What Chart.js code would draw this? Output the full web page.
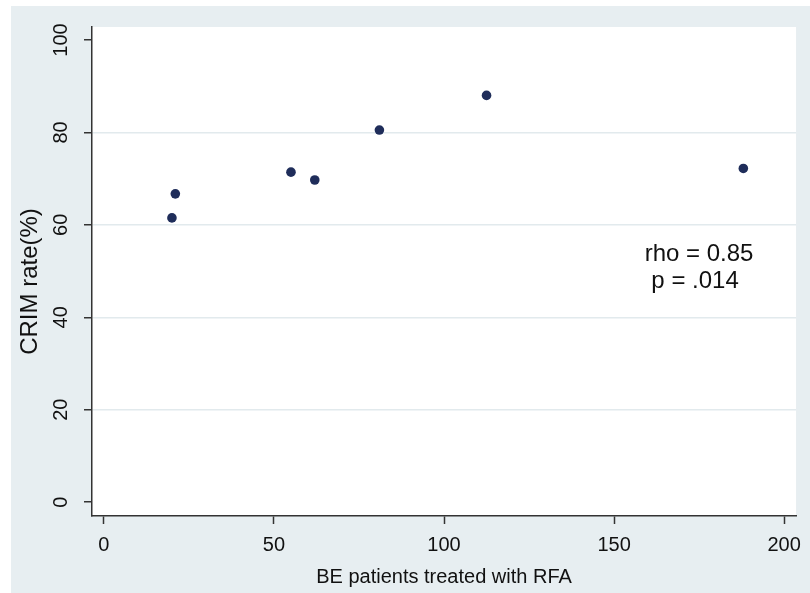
<!DOCTYPE html>
<html>
<head>
<meta charset="utf-8">
<script src="https://cdn.jsdelivr.net/npm/chart.js@4/dist/chart.umd.min.js"></script>
<style>
  html, body { margin: 0; padding: 0; background: #ffffff; }
  #wrap { width: 810px; height: 593px; position: relative; }
</style>
</head>
<body>
<div id="wrap"><canvas id="c" width="810" height="593"></canvas></div>
<script>
// ---- data ----
const patientsRFA = [20, 21, 55, 62, 81, 112.5, 188];
const crimRate    = [61.5, 66.7, 71.4, 69.7, 80.5, 88.0, 72.2];
const xTickValues = [0, 50, 100, 150, 200];
const yTickValues = [0, 20, 40, 60, 80, 100];
const xTitle = 'BE patients treated with RFA';
const yTitle = 'CRIM rate(%)';
const statLines = ['rho = 0.85', ' p = .014'];
const statX = 159;
const statY = [53.7, 47.8];

const BG = '#e7eef1';
const GRID = '#e2eaed';
const AXIS = '#333333';
const DOT = '#1f2d5a';
const FONT = "'Liberation Sans', Arial, sans-serif";

const bgPlugin = {
  id: 'bg',
  beforeDraw(chart) {
    const {ctx, chartArea} = chart;
    ctx.save();
    ctx.fillStyle = '#ffffff';
    ctx.fillRect(0, 0, chart.width, chart.height);
    ctx.fillStyle = BG;
    ctx.fillRect(11, 6, chart.width - 11, chart.height - 6);
    ctx.fillStyle = '#ffffff';
    ctx.fillRect(chartArea.left, chartArea.top, chartArea.right - chartArea.left, chartArea.bottom - chartArea.top);
    ctx.restore();
  }
};

const statPlugin = {
  id: 'stat',
  afterDatasetsDraw(chart) {
    const {ctx, scales} = chart;
    ctx.save();
    ctx.fillStyle = '#111111';
    ctx.font = "24px " + FONT;
    ctx.textAlign = 'left';
    ctx.textBaseline = 'middle';
    statLines.forEach((t, i) => {
      ctx.fillText(t, scales.x.getPixelForValue(statX), scales.y.getPixelForValue(statY[i]));
    });
    ctx.restore();
  }
};

new Chart(document.getElementById('c'), {
  type: 'scatter',
  data: {
    datasets: [{
      data: patientsRFA.map((x, i) => ({x: x, y: crimRate[i]})),
      backgroundColor: DOT,
      borderColor: DOT,
      borderWidth: 0,
      pointRadius: 4.8,
      pointHoverRadius: 4.8
    }]
  },
  options: {
    responsive: false,
    animation: false,
    devicePixelRatio: 1,
    layout: { padding: { left: 0, top: 27, right: 10, bottom: 0 } },
    plugins: { legend: { display: false }, tooltip: { enabled: false } },
    scales: {
      x: {
        type: 'linear',
        min: -3.5,
        max: 203.5,
        afterBuildTicks: s => { s.ticks = xTickValues.map(v => ({value: v})); },
        afterFit: s => { s.height = 77; },
        border: { display: true, color: AXIS, width: 1.5 },
        grid: { drawOnChartArea: false, drawTicks: true, tickLength: 8, tickColor: AXIS, tickWidth: 1.5 },
        ticks: { color: '#111', font: { family: FONT, size: 20 }, padding: 9, maxRotation: 0, minRotation: 0 },
        title: { display: true, text: xTitle, color: '#111', font: { family: FONT, size: 20 }, padding: { top: 0, bottom: 4 } }
      },
      y: {
        type: 'linear',
        min: -3.0,
        max: 102.8,
        afterBuildTicks: s => { s.ticks = yTickValues.map(v => ({value: v})); },
        afterFit: s => { s.width = 92; },
        border: { display: true, color: AXIS, width: 1.5 },
        grid: {
          drawOnChartArea: true, drawTicks: true, tickLength: 8, tickColor: AXIS, tickWidth: 1.5,
          color: c => (c.tick && (c.tick.value === 0 || c.tick.value === 100)) ? 'rgba(0,0,0,0)' : GRID,
          lineWidth: 1.5
        },
        ticks: { color: '#111', font: { family: FONT, size: 20 }, padding: 6, minRotation: 90, maxRotation: 90, crossAlign: 'center' },
        title: { display: true, text: yTitle + '   ', color: '#111', font: { family: FONT, size: 24 }, padding: { top: 16, bottom: 0 } }
      }
    }
  },
  plugins: [bgPlugin, statPlugin]
});
</script>
</body>
</html>
